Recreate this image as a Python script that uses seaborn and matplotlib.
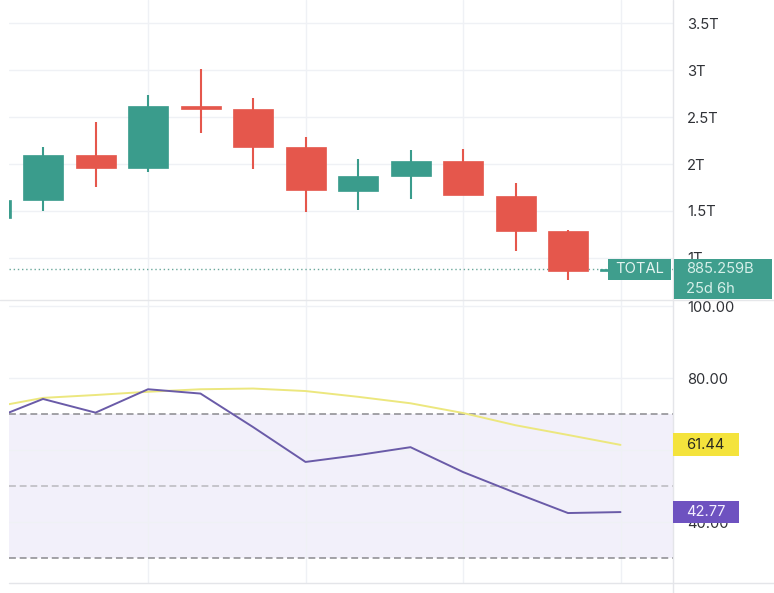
import matplotlib
matplotlib.use("Agg")
import matplotlib.pyplot as plt
from matplotlib.patches import Rectangle
from matplotlib.lines import Line2D
import seaborn as sns
import pandas as pd

# ---------------- data ----------------
candle_idx = list(range(13))
opens  = [1.43, 1.62, 2.10, 1.96, 2.62, 2.59, 2.18, 1.71, 1.87, 2.03, 1.66, 1.29, 0.862]
closes = [1.62, 2.10, 1.96, 2.62, 2.59, 2.18, 1.72, 1.87, 2.03, 1.67, 1.29, 0.862, 0.885]
highs  = [1.66, 2.18, 2.45, 2.73, 3.01, 2.70, 2.29, 2.05, 2.15, 2.16, 1.80, 1.30, 0.90]
lows   = [1.40, 1.50, 1.76, 1.92, 2.33, 1.95, 1.49, 1.51, 1.63, 1.67, 1.07, 0.77, 0.86]
rsi    = [68.4, 74.2, 70.4, 76.9, 75.7, 66.4, 56.7, 58.6, 60.8, 53.9, 48.1, 42.5, 42.77]
rsi_ma = [71.8, 74.5, 75.3, 76.2, 76.9, 77.1, 76.4, 74.8, 73.0, 70.3, 66.9, 64.2, 61.44]
price_ticks = [1.0, 1.5, 2.0, 2.5, 3.0, 3.5]
price_labels = ["1T", "1.5T", "2T", "2.5T", "3T", "3.5T"]
rsi_ticks = [40, 60, 80, 100]
rsi_labels = ["40.00", "60.00", "80.00", "100.00"]
rsi_bands = [30, 50, 70]
last_price_text = "885.259B"
countdown_text = "25d 6h"
symbol_text = "TOTAL"

df = pd.DataFrame({"i": candle_idx, "rsi": rsi, "ma": rsi_ma})

# ---------------- style ----------------
sns.set_theme(style="white")
plt.rcParams["font.family"] = ["Inter", "DejaVu Sans"]

UP = "#3a9c8c"
DOWN = "#e5574c"
GRID = "#eff1f5"
TXT = "#2f3136"
W, H = 774, 593

fig = plt.figure(figsize=(W / 100, H / 100), dpi=100)
fig.patch.set_facecolor("white")

def ax_rect(x0, y0, x1, y1):
    return [x0 / W, 1 - y1 / H, (x1 - x0) / W, (y1 - y0) / H]

ax1 = fig.add_axes(ax_rect(9, 0, 673, 300))
ax2 = fig.add_axes(ax_rect(9, 300, 673, 583))

xlim = (0.352, 13.0)

for ax in (ax1, ax2):
    ax.set_facecolor("white")
    for s in ax.spines.values():
        s.set_visible(False)
    ax.set_xlim(*xlim)
    ax.set_xticks([3, 6, 9, 12])
    ax.set_xticklabels([])
    ax.tick_params(axis="x", length=0)
    ax.yaxis.tick_right()
    ax.tick_params(axis="y", length=0, pad=10, labelsize=10.6, labelcolor=TXT)
    ax.grid(True, color=GRID, lw=1)
    ax.set_axisbelow(True)

# ---------------- candles ----------------
colors = [UP if c >= o else DOWN for o, c in zip(opens, closes)]
ax1.vlines(candle_idx, lows, highs, colors=colors, lw=1.5, zorder=2)
ax1.bar(candle_idx, [c - o for o, c in zip(opens, closes)], bottom=opens,
        width=0.762, color=colors, edgecolor=colors, lw=0.5, zorder=3)
ax1.axhline(closes[-1], color="#6aa89b", ls=(0, (1, 2)), lw=1.0, zorder=1)
ax1.set_ylim(0.553, 3.745)
ax1.set_yticks(price_ticks)
ax1.set_yticklabels(price_labels)
ax1.set_ylabel("")

# ---------------- RSI ----------------
ax2.axhspan(rsi_bands[0], rsi_bands[2], color="#f2f0fa", zorder=0, lw=0)
for b, c in zip(rsi_bands, ["#8a8a8e", "#b9b9bd", "#8a8a8e"]):
    ax2.axhline(b, color=c, ls=(0, (4.5, 2.5)), lw=1.1, zorder=1)
sns.lineplot(data=df, x="i", y="ma", ax=ax2, color="#ece77e", lw=1.4, zorder=3)
sns.lineplot(data=df, x="i", y="rsi", ax=ax2, color="#6a5ba8", lw=1.4, zorder=4)
ax2.set_ylim(23.06, 101.7)
ax2.set_yticks(rsi_ticks)
ax2.set_yticklabels(rsi_labels)
ax2.set_xlabel("")
ax2.set_ylabel("")
ax2.set_xlim(*xlim)

# ---------------- separators ----------------
fig.add_artist(Line2D([673 / W, 673 / W], [0, 1], transform=fig.transFigure, color="#e4e5e9", lw=1))
fig.add_artist(Line2D([0, 1], [1 - 300 / H, 1 - 300 / H], transform=fig.transFigure, color="#e6e7ea", lw=1))
fig.add_artist(Line2D([9 / W, 1], [1 - 583 / H, 1 - 583 / H], transform=fig.transFigure, color="#e4e5e9", lw=1))

# ---------------- value labels (placed from data values) ----------------
fig.canvas.draw()

def ypix(ax, v):
    # pixel y measured from the top
    return H - ax.transData.transform((1, v))[1]

def box(x0, x1, y0, y1, color):
    fig.add_artist(Rectangle((x0 / W, 1 - y1 / H), (x1 - x0) / W, (y1 - y0) / H,
                             transform=fig.transFigure, facecolor=color, edgecolor="none", zorder=5))

def label(x, y, s, color, ha="left", size=10.6):
    fig.text(x / W, 1 - y / H, s, color=color, ha=ha, va="center", fontsize=size, zorder=6)

py = ypix(ax1, closes[-1])
box(608, 671, py - 10, py + 11, "#3f9e8d")
label(639.5, py + 0.5, symbol_text, "#e3f3ef", ha="center")
box(674, 772, py - 10, py + 30, "#3f9e8d")
label(686, py, last_price_text, "#d6efe9")
label(686, py + 20, countdown_text, "#d6efe9")

my = ypix(ax2, rsi_ma[-1])
box(673, 739, my - 11.5, my + 11.5, "#f4e33c")
label(686, my, f"{rsi_ma[-1]:.2f}", "#2a2a20")

ry = ypix(ax2, rsi[-1])
box(673, 739, ry - 11, ry + 11, "#6e52c0")
label(686, ry, f"{rsi[-1]:.2f}", "#f4f0ff")

fig.savefig("out.png", dpi=100, facecolor="white")
